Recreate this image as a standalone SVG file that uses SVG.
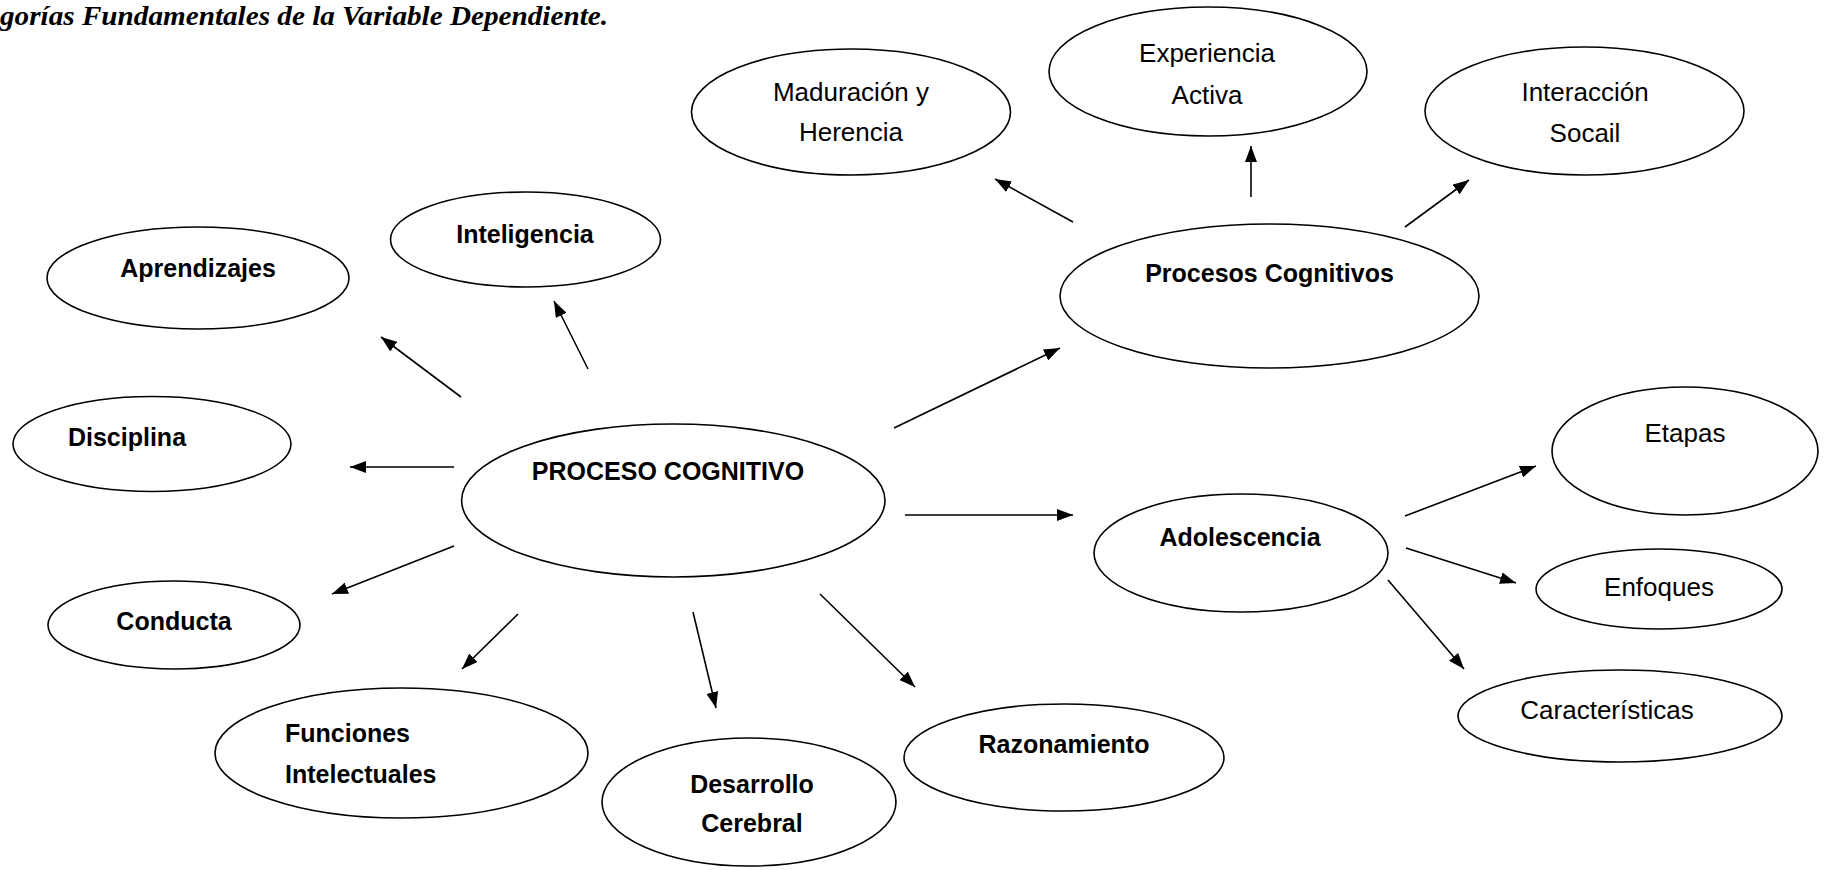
<svg xmlns="http://www.w3.org/2000/svg" width="1825" height="870" viewBox="0 0 1825 870">
<style>
.n{fill:#fff;stroke:#000;stroke-width:1.6}
.r{font-family:"Liberation Sans",Arial,sans-serif;font-size:26px;fill:#000;text-anchor:middle}
.b{font-family:"Liberation Sans",Arial,sans-serif;font-size:25px;font-weight:bold;fill:#000;text-anchor:middle}
.b.s{text-anchor:start}
.c line{stroke:#000;stroke-width:1.6;marker-end:url(#ah)}
</style>
<defs>
<marker id="ah" viewBox="0 0 16 12" refX="16" refY="6" markerWidth="16" markerHeight="12" orient="auto" markerUnits="userSpaceOnUse"><path d="M0,0 L16,6 L0,12 z" fill="#000"/></marker>
</defs>
<rect width="1825" height="870" fill="#fff"/>
<text x="0" y="25" font-family="'Liberation Serif','Times New Roman',serif" font-size="27" font-weight="bold" font-style="italic" textLength="608" lengthAdjust="spacingAndGlyphs">gorías Fundamentales de la Variable Dependiente.</text>

<g id="maduracion"><ellipse class="n" cx="851" cy="112" rx="159.5" ry="63"/><text class="r" x="851" y="101">Maduración y</text><text class="r" x="851" y="141">Herencia</text></g>
<g id="experiencia"><ellipse class="n" cx="1208" cy="71.5" rx="159" ry="64.5"/><text class="r" x="1207" y="62">Experiencia</text><text class="r" x="1207" y="104">Activa</text></g>
<g id="interaccion"><ellipse class="n" cx="1584.5" cy="111" rx="159.5" ry="64"/><text class="r" x="1585" y="101">Interacción</text><text class="r" x="1585" y="142">Socail</text></g>
<g id="inteligencia"><ellipse class="n" cx="525.5" cy="239.5" rx="135" ry="47.5"/><text class="b" x="525" y="243">Inteligencia</text></g>
<g id="aprendizajes"><ellipse class="n" cx="198" cy="278" rx="151" ry="51"/><text class="b" x="198" y="277">Aprendizajes</text></g>
<g id="procesos-cognitivos"><ellipse class="n" cx="1269.5" cy="296" rx="209.5" ry="72"/><text class="b" x="1269.5" y="282">Procesos Cognitivos</text></g>
<g id="disciplina"><ellipse class="n" cx="152" cy="444" rx="139" ry="47.5"/><text class="b" x="127" y="446">Disciplina</text></g>
<g id="proceso-cognitivo"><ellipse class="n" cx="673.3" cy="500.5" rx="211.7" ry="76.5"/><text class="b" x="668" y="480" font-size="21">PROCESO COGNITIVO</text></g>
<g id="adolescencia"><ellipse class="n" cx="1241" cy="553" rx="147" ry="59"/><text class="b" x="1240" y="546">Adolescencia</text></g>
<g id="etapas"><ellipse class="n" cx="1685" cy="451" rx="133" ry="64"/><text class="r" x="1685" y="442">Etapas</text></g>
<g id="enfoques"><ellipse class="n" cx="1659" cy="589" rx="123" ry="40"/><text class="r" x="1659" y="596">Enfoques</text></g>
<g id="conducta"><ellipse class="n" cx="174" cy="625" rx="126" ry="44"/><text class="b" x="174" y="630">Conducta</text></g>
<g id="caracteristicas"><ellipse class="n" cx="1620" cy="716" rx="162" ry="46"/><text class="r" x="1607" y="719">Características</text></g>
<g id="funciones"><ellipse class="n" cx="401.5" cy="753" rx="186.5" ry="65"/><text class="b s" x="285" y="742">Funciones</text><text class="b s" x="285" y="783">Intelectuales</text></g>
<g id="desarrollo"><ellipse class="n" cx="749" cy="802" rx="147" ry="64"/><text class="b" x="752" y="793" font-size="22">Desarrollo</text><text class="b" x="752" y="832" font-size="22">Cerebral</text></g>
<g id="razonamiento"><ellipse class="n" cx="1064" cy="757.5" rx="160" ry="53.5"/><text class="b" x="1064" y="753">Razonamiento</text></g>

<g id="connectors" class="c">
<line x1="1073" y1="222" x2="995" y2="179"/>
<line x1="1251" y1="197" x2="1251" y2="146"/>
<line x1="1405" y1="227" x2="1469" y2="180"/>
<line x1="588" y1="369" x2="554" y2="301"/>
<line x1="461" y1="397" x2="381" y2="337"/>
<line x1="454" y1="467" x2="350" y2="467"/>
<line x1="454" y1="546" x2="332" y2="594"/>
<line x1="518" y1="614" x2="462" y2="669"/>
<line x1="693" y1="612" x2="716" y2="708"/>
<line x1="820" y1="594" x2="915" y2="687"/>
<line x1="894" y1="428" x2="1060" y2="348"/>
<line x1="905" y1="515" x2="1073" y2="515"/>
<line x1="1405" y1="516" x2="1536" y2="466"/>
<line x1="1406" y1="548" x2="1516" y2="583"/>
<line x1="1388" y1="580" x2="1464" y2="669"/>
</g>
</svg>
